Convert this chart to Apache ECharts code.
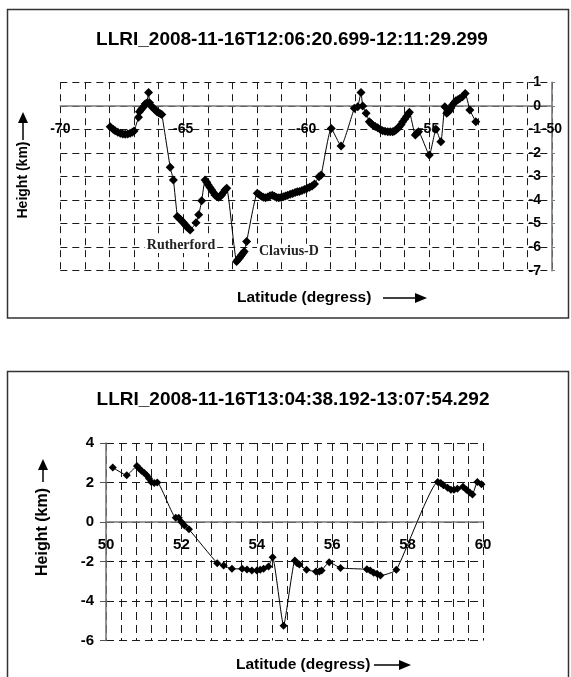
<!DOCTYPE html>
<html>
<head>
<meta charset="utf-8">
<script src="https://cdn.jsdelivr.net/npm/echarts@6/dist/echarts.min.js"></script>
<style>
html,body{margin:0;padding:0;background:#fff;}
#chart{width:571px;height:677px;}
</style>
</head>
<body>
<div id="chart"></div>
<script>
// ---------- DATA ----------
const topTitle = 'LLRI_2008-11-16T12:06:20.699-12:11:29.299';
const bottomTitle = 'LLRI_2008-11-16T13:04:38.192-13:07:54.292';
const xAxisName = 'Latitude (degress)';
const yAxisName = 'Height (km)';

// Top chart: latitude (deg) and height (km)
const topLat = [
  -67.97,-67.85,-67.77,-67.66,-67.56,-67.46,-67.36,-67.26,-67.16,-67.07,-67.00,
  -66.82,-66.78,-66.71,-66.64,-66.55,-66.48,-66.41,-66.37,-66.28,-66.21,-66.14,-66.07,-66.00,-65.93,-65.87,
  -65.53,-65.40,
  -65.24,-65.17,-65.10,-65.03,-64.97,-64.91,-64.86,-64.79,-64.72,
  -64.48,-64.37,-64.25,
  -64.11,-64.04,-63.98,-63.91,-63.84,-63.77,-63.71,-63.64,-63.57,-63.50,-63.44,-63.37,-63.30,-63.23,
  -62.83,-62.78,-62.72,-62.67,-62.63,-62.57,-62.52,-62.42,
  -61.99,-61.90,-61.82,-61.74,-61.65,-61.56,-61.47,-61.38,-61.29,-61.20,-61.11,-61.02,-60.93,-60.84,-60.75,-60.65,-60.55,-60.45,-60.36,
  -60.27,-60.17,-60.07,-59.96,-59.86,-59.76,-59.66,-59.48,-59.39,
  -58.98,-58.58,
  -58.04,-57.90,-57.77,-57.70,-57.56,-57.43,-57.36,-57.29,-57.19,-57.09,-56.99,-56.89,-56.79,-56.68,-56.58,-56.48,-56.41,-56.35,-56.28,-56.21,-56.14,-56.07,-55.99,-55.91,-55.85,-55.80,
  -55.56,-55.50,-55.43,
  -54.99,-54.72,-54.52,
  -54.36,-54.28,-54.23,-54.18,-54.11,-54.05,-53.98,-53.91,-53.83,-53.75,-53.64,-53.53,
  -53.34,-53.10
];
const topHeight = [
  -0.89,-1.00,-1.06,-1.12,-1.17,-1.20,-1.21,-1.20,-1.17,-1.12,-1.07,
  -0.49,-0.25,-0.16,-0.07,0.07,0.12,0.56,0.13,-0.04,-0.10,-0.18,-0.25,-0.30,-0.34,-0.37,
  -2.61,-3.15,
  -4.70,-4.77,-4.84,-4.92,-4.99,-5.06,-5.13,-5.20,-5.27,
  -4.96,-4.63,-4.03,
  -3.15,-3.25,-3.36,-3.47,-3.57,-3.68,-3.79,-3.85,-3.88,-3.85,-3.79,-3.68,-3.57,-3.50,
  -6.61,-6.54,-6.47,-6.40,-6.33,-6.26,-6.19,-5.76,
  -3.71,-3.78,-3.84,-3.88,-3.90,-3.87,-3.82,-3.80,-3.84,-3.89,-3.90,-3.89,-3.86,-3.83,-3.80,-3.76,-3.72,-3.68,-3.65,
  -3.64,-3.60,-3.55,-3.50,-3.46,-3.40,-3.32,-3.01,-2.94,
  -0.96,-1.71,
  -0.11,-0.04,0.56,-0.01,-0.32,-0.68,-0.75,-0.82,-0.88,-0.93,-1.00,-1.06,-1.08,-1.10,-1.10,-1.10,-1.07,-1.03,-0.96,-0.89,-0.79,-0.68,-0.56,-0.44,-0.35,-0.28,
  -1.24,-1.17,-1.10,
  -2.09,-1.00,-1.53,
  -0.04,-0.32,-0.27,-0.21,-0.10,0.03,0.12,0.21,0.26,0.31,0.38,0.52,
  -0.18,-0.68
];
// Crater annotations in the top chart (latitude, height of label centre)
const craterNames = ['Rutherford', 'Clavius-D'];
const craterLat = [-65.09, -60.70];
const craterHeight = [-5.91, -6.20];

// Bottom chart
const bottomLat = [
  50.18,50.55,50.82,50.88,50.94,51.01,51.08,51.14,51.20,51.28,51.36,
  51.85,51.93,52.00,52.08,52.20,
  52.95,53.12,53.34,53.61,53.74,53.87,54.00,54.09,54.18,54.31,
  54.42,54.71,55.01,55.07,55.13,55.32,55.57,55.66,55.72,55.92,56.22,
  56.92,57.01,57.10,57.19,57.28,57.70,
  58.80,58.88,58.95,59.06,59.15,59.23,59.32,59.47,59.56,59.65,59.72,59.85,59.96
];
const bottomHeight = [
  2.76,2.37,2.83,2.71,2.59,2.49,2.37,2.20,2.03,1.98,2.00,
  0.22,0.22,0.00,-0.17,-0.37,
  -2.08,-2.20,-2.37,-2.37,-2.40,-2.45,-2.45,-2.42,-2.37,-2.25,
  -1.78,-5.25,-1.95,-2.08,-2.15,-2.42,-2.50,-2.50,-2.45,-2.03,-2.32,
  -2.39,-2.45,-2.56,-2.62,-2.71,-2.42,
  2.03,1.98,1.86,1.73,1.64,1.64,1.69,1.78,1.64,1.49,1.40,2.03,1.91
];

// Axis ranges / ticks
const topXRange = [-70, -50], topXStep = 1, topXLabelEvery = 5;
const topYRange = [-7, 1], topYStep = 1;
const botXRange = [50, 60], botXStep = 2, botXMinorSplit = 5;
const botYRange = [-6, 4], botYStep = 2;

// ---------- LAYOUT ----------
const topGrid = {left: 60.3, top: 82.2, width: 491.7, height: 188.5};
const botGrid = {left: 106, top: 443, width: 377, height: 197.6};
// distance from grid bottom to the y = 0 line, so the x axis sits on zero
const zeroOffset = (g, r) => -g.height * (0 - r[0]) / (r[1] - r[0]);

// ---------- CHART ----------
const FONT = '"Liberation Sans", Arial, sans-serif';
const SERIF = '"Liberation Serif", "Times New Roman", serif';
const gridDash = {type: [7, 5], color: '#1a1a1a', width: 1};
const gridDash2 = {type: [8, 5], color: '#1a1a1a', width: 1};
const axisGrey = {color: '#7a7a7a', width: 1.6};
const lbl = (size) => ({fontFamily: FONT, fontWeight: 'bold', fontSize: size, color: '#000'});

const chart = echarts.init(document.getElementById('chart'), null, {renderer: 'canvas'});

const option = {
  animation: false,
  backgroundColor: '#fff',
  title: [
    {text: topTitle, left: 292, top: 30, textAlign: 'center', padding: 0, textStyle: lbl(19)},
    {text: bottomTitle, left: 293, top: 390, textAlign: 'center', padding: 0, textStyle: lbl(19)}
  ],
  grid: [topGrid, botGrid],
  xAxis: [
    {gridIndex: 0, type: 'value', min: topXRange[0], max: topXRange[1], interval: topXStep,
     position: 'bottom', offset: zeroOffset(topGrid, topYRange),
     axisLine: {onZero: false, lineStyle: axisGrey},
     axisTick: {show: false},
     axisLabel: Object.assign({margin: 16,
       formatter: v => (Math.round(v) % topXLabelEvery === 0 ? String(Math.round(v)) : '')}, lbl(14)),
     splitLine: {show: true, lineStyle: gridDash}},
    {gridIndex: 1, type: 'value', min: botXRange[0], max: botXRange[1], interval: botXStep,
     position: 'bottom', offset: zeroOffset(botGrid, botYRange),
     axisLine: {onZero: false, lineStyle: axisGrey},
     axisTick: {show: false},
     minorTick: {show: false, splitNumber: botXMinorSplit},
     minorSplitLine: {show: true, lineStyle: gridDash2},
     axisLabel: Object.assign({margin: 15}, lbl(15)),
     splitLine: {show: true, lineStyle: gridDash2}}
  ],
  yAxis: [
    {gridIndex: 0, type: 'value', position: 'right', min: topYRange[0], max: topYRange[1], interval: topYStep,
     axisLine: {show: true, onZero: false, lineStyle: axisGrey},
     axisTick: {show: true, length: 3, lineStyle: {color: '#7a7a7a'}},
     axisLabel: Object.assign({inside: true, margin: 11}, lbl(14)),
     splitLine: {show: true, lineStyle: gridDash}},
    {gridIndex: 1, type: 'value', position: 'left', min: botYRange[0], max: botYRange[1], interval: botYStep,
     axisLine: {show: true, onZero: false, lineStyle: axisGrey},
     axisTick: {show: true, length: 6, lineStyle: {color: '#555'}},
     axisLabel: Object.assign({margin: 12}, lbl(15)),
     splitLine: {show: true, lineStyle: gridDash2}}
  ],
  series: [
    {type: 'line', xAxisIndex: 0, yAxisIndex: 0,
     data: topLat.map((x, i) => [x, topHeight[i]]),
     symbol: 'diamond', symbolSize: 9, smooth: 0.15,
     itemStyle: {color: '#000'}, lineStyle: {color: '#000', width: 1},
     markPoint: {
       silent: true,
       symbol: 'circle', symbolSize: 1,
       itemStyle: {color: 'rgba(0,0,0,0)'},
       label: {show: true, position: 'inside', color: '#222', fontFamily: SERIF, fontWeight: 'bold',
               fontSize: 14, backgroundColor: '#fff', padding: [1, 2],
               formatter: p => p.name},
       data: craterNames.map((n, i) => ({name: n, coord: [craterLat[i], craterHeight[i]]}))
     }},
    {type: 'line', xAxisIndex: 1, yAxisIndex: 1,
     data: bottomLat.map((x, i) => [x, bottomHeight[i]]),
     symbol: 'diamond', symbolSize: 8, smooth: 0.15,
     itemStyle: {color: '#000'}, lineStyle: {color: '#000', width: 1}}
  ],
  graphic: [
    // frames
    {type: 'rect', silent: true, shape: {x: 7.5, y: 9.5, width: 561, height: 308.5},
     style: {fill: 'none', stroke: '#333', lineWidth: 1.5}},
    {type: 'rect', silent: true, shape: {x: 7.5, y: 371.5, width: 561, height: 330},
     style: {fill: 'none', stroke: '#333', lineWidth: 1.5}},
    // top x-axis name + arrow
    {type: 'text', x: 237, y: 298, silent: true,
     style: {text: xAxisName, font: 'bold 15.5px ' + FONT, fill: '#000', align: 'left', verticalAlign: 'middle'}},
    {type: 'line', silent: true, shape: {x1: 383, y1: 298, x2: 418, y2: 298}, style: {stroke: '#000', lineWidth: 1.5}},
    {type: 'polygon', silent: true, shape: {points: [[415, 293], [427, 298], [415, 303]]}, style: {fill: '#000'}},
    // bottom x-axis name + arrow
    {type: 'text', x: 236, y: 665, silent: true,
     style: {text: xAxisName, font: 'bold 15.5px ' + FONT, fill: '#000', align: 'left', verticalAlign: 'middle'}},
    {type: 'line', silent: true, shape: {x1: 374, y1: 665, x2: 402, y2: 665}, style: {stroke: '#000', lineWidth: 1.5}},
    {type: 'polygon', silent: true, shape: {points: [[399, 660], [411, 665], [399, 670]]}, style: {fill: '#000'}},
    // top y-axis name + arrow
    {type: 'text', x: 23, y: 180, rotation: Math.PI / 2, silent: true,
     style: {text: yAxisName, font: 'bold 14px ' + FONT, fill: '#000', align: 'center', verticalAlign: 'middle'}},
    {type: 'line', silent: true, shape: {x1: 23, y1: 140, x2: 23, y2: 121}, style: {stroke: '#000', lineWidth: 1.5}},
    {type: 'polygon', silent: true, shape: {points: [[18, 123], [23, 112], [28, 123]]}, style: {fill: '#000'}},
    // bottom y-axis name + arrow
    {type: 'text', x: 43, y: 532, rotation: Math.PI / 2, silent: true,
     style: {text: yAxisName, font: 'bold 16px ' + FONT, fill: '#000', align: 'center', verticalAlign: 'middle'}},
    {type: 'line', silent: true, shape: {x1: 43, y1: 482, x2: 43, y2: 468}, style: {stroke: '#000', lineWidth: 1.5}},
    {type: 'polygon', silent: true, shape: {points: [[38, 470], [43, 459], [48, 470]]}, style: {fill: '#000'}}
  ]
};
chart.setOption(option);
</script>
</body>
</html>
